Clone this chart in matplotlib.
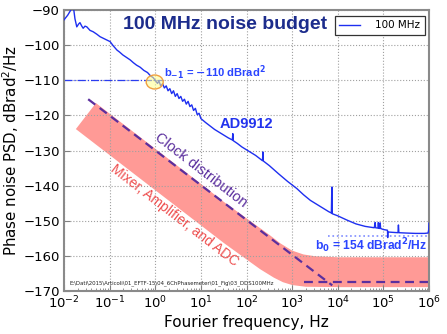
import matplotlib
matplotlib.use("Agg")
import matplotlib.pyplot as plt
from matplotlib.patches import Ellipse
import numpy as np

# ---- data (log10 frequency, dB) ----
meas_logf = [-2.00, -1.92, -1.85, -1.82, -1.79, -1.76, -1.72, -1.68, -1.65, -1.61, -1.58, -1.54,
             -1.50, -1.43, -1.36, -1.28, -1.21, -1.10, -0.99, -0.92, -0.84, -0.78, -0.71, -0.63,
             -0.55, -0.48, -0.41, -0.33, -0.25, -0.17, -0.10, -0.05, 0.00,
             0.05, 0.08, 0.12, 0.16, 0.20, 0.24, 0.28, 0.32, 0.36, 0.40, 0.44, 0.48, 0.52, 0.56,
             0.60, 0.64, 0.68, 0.72, 0.76, 0.80, 0.84, 0.88, 0.92, 0.96, 1.00,
             1.10, 1.20, 1.30, 1.40, 1.50, 1.60, 1.69, 1.70, 1.71, 1.80, 1.90, 2.00, 2.10, 2.20,
             2.30, 2.35, 2.36, 2.37, 2.50, 2.70, 2.90, 3.10, 3.25, 3.40, 3.60, 3.80, 3.86, 3.87,
             3.88, 4.00, 4.20, 4.40, 4.60, 4.80, 4.82, 4.83, 4.88, 4.89, 4.90, 4.92, 4.93, 4.94,
             5.00, 5.09, 5.095, 5.10, 5.20, 5.32, 5.33, 5.34, 5.50, 5.70, 5.90, 5.98, 5.995, 6.00]
meas_db = [-92.8, -91.5, -90.0, -89.0, -89.5, -92.5, -94.8, -94.0, -93.6, -94.6, -95.2, -94.6,
           -94.8, -95.8, -96.2, -96.9, -97.6, -98.3, -99.0, -100.2, -101.4, -102.0, -102.8, -103.5,
           -104.2, -105.0, -105.7, -106.3, -107.2, -107.8, -108.8, -109.2, -110.0,
           -110.9, -110.2, -111.6, -111.0, -112.2, -111.6, -113.0, -112.4, -113.8, -113.0, -114.6,
           -113.8, -115.2, -114.6, -116.0, -115.4, -116.8, -116.0, -117.5, -117.0, -118.6, -118.0,
           -119.8, -119.4, -120.9,
           -122.0, -123.0, -124.0, -124.8, -125.6, -126.4, -127.0, -125.2, -127.2, -128.0, -129.0,
           -129.8, -130.6, -131.4, -132.4, -132.9, -130.4, -133.0, -134.3, -136.6, -138.8, -140.8,
           -142.6, -144.2, -145.8, -147.4, -147.8, -140.4, -148.0, -148.6, -149.8, -150.9, -151.6,
           -152.0, -150.5, -152.0, -152.1, -150.5, -152.1, -152.2, -150.6, -152.2,
           -152.5, -152.7, -154.8, -153.2, -153.3, -153.4, -151.2, -153.4, -153.5, -153.6, -153.6,
           -153.5, -152.5, -150.7]

band_up_logf = [-1.30, -1.0, 0.0, 1.0, 1.5, 2.0, 2.5, 2.75, 3.0, 3.25, 3.5, 4.0, 6.0]
band_up_db = [-116.5, -119.5, -129.5, -139.5, -144.6, -149.3, -154.0, -156.5, -158.5, -159.6,
              -160.1, -160.4, -160.4]
band_lo_logf = [-1.74, -1.0, 0.0, 1.0, 1.5, 2.0, 2.3, 2.6, 2.8, 3.0, 3.3, 4.0, 6.0]
band_lo_db = [-123.9, -131.3, -141.3, -151.3, -156.3, -161.0, -163.8, -166.2, -167.5, -168.3,
              -168.8, -168.9, -168.9]

clock_slope_logf = [-1.47, 3.88]
clock_slope_db = [-115.4, -168.4]
clock_floor_logf = [3.27, 6.0]
clock_floor_db = [-167.5, -167.5]

b_m1_db = -110
b_m1_span_logf = [-2.0, 0.17]
b0_db = -154.4
b0_span_logf = [3.78, 6.0]

xticks = [1e-2, 1e-1, 1e0, 1e1, 1e2, 1e3, 1e4, 1e5, 1e6]
yticks = [-170, -160, -150, -140, -130, -120, -110, -100, -90]

f = lambda l: 10.0 ** np.asarray(l)

fig = plt.figure(figsize=(4.47, 3.34), dpi=100)
ax = fig.add_axes([64 / 447, 43 / 334, 365 / 447, 281 / 334])

band_x = np.concatenate([f(band_up_logf), f(band_lo_logf)[::-1]])
band_y = np.concatenate([band_up_db, band_lo_db[::-1]])
ax.fill(band_x, band_y, color='#ff9a96', lw=0, zorder=1)

ax.plot(f(clock_slope_logf), clock_slope_db, color='#5b2f9e', lw=1.6, dashes=(4, 2.5), zorder=2)
ax.plot(f(clock_floor_logf), clock_floor_db, color='#5b2f9e', lw=1.6, dashes=(4, 2.5), zorder=2)

ax.plot(f(b_m1_span_logf), [b_m1_db, b_m1_db], color='#2a3cf0', lw=0.9, ls='-.', zorder=2)
ax.plot(f(b0_span_logf), [b0_db, b0_db], color='#7f8cff', lw=1.2, ls=':', zorder=2)

ax.plot(f(meas_logf), meas_db, color='#1e2ff0', lw=1.0, label='100 MHz', zorder=3)

ax.set_xscale('log')
ax.set_xlim(1e-2, 1e6)
ax.set_ylim(-170, -90)
ax.set_xticks(xticks)
ax.set_yticks(yticks)
ax.set_yticklabels(['\u2212%d' % abs(v) for v in yticks])
ax.grid(True, which='major', ls=':', color='#a0a0a0', lw=0.8)
ax.tick_params(which='both', direction='in', labelsize=9.5, pad=3, color='#808080')
ax.tick_params(which='major', length=4)
ax.tick_params(which='minor', length=2)
for s in ax.spines.values():
    s.set_color('#8a8a8a')
    s.set_linewidth(1.5)

ax.set_xlabel('Fourier frequency, Hz', fontsize=11, labelpad=2)
ax.set_ylabel('Phase noise PSD, dBrad$^2$/Hz', fontsize=10.8, labelpad=2)

leg = ax.legend(loc='upper right', bbox_to_anchor=(0.988, 0.978), borderaxespad=0,
                fontsize=7.5, fancybox=False, framealpha=1, handlelength=2.0,
                borderpad=0.4, handletextpad=1.5)
leg.get_frame().set_edgecolor('#333333')
leg.get_frame().set_linewidth(0.9)

ax.text(0.441, 0.948, '100 MHz noise budget', transform=ax.transAxes, ha='center', va='center',
        fontsize=14, color='#1c2c8c', family='Liberation Sans', fontweight='bold')
ax.text(0.499, 0.593, 'AD9912', transform=ax.transAxes, ha='center', va='center',
        fontsize=10.5, color='#2233ee', family='Liberation Sans', fontweight='bold')
ax.text(0.275, 0.776, r'b$_{\mathbf{-1}}$ = $\mathbf{-}$110 dBrad$^\mathbf{2}$', transform=ax.transAxes,
        ha='left', va='center', fontsize=8, color='#2a44ff', family='Liberation Sans',
        fontweight='bold')
ax.text(0.687, 0.160, r'b$_\mathbf{0}$ = 154 dBrad$^\mathbf{2}$/Hz', transform=ax.transAxes,
        ha='left', va='center', fontsize=8.7, color='#2a44ff', family='Liberation Sans',
        fontweight='bold')
ax.text((201 - 64) / 365, (291 - 170) / 281, 'Clock distribution', transform=ax.transAxes,
        ha='center', va='center', rotation=-37.6, rotation_mode='anchor', fontsize=10.5,
        color='#5b2f9e', family='Liberation Sans')
ax.text((175 - 64) / 365, (291 - 215) / 281, 'Mixer, Amplifier, and ADC', transform=ax.transAxes,
        ha='center', va='center', rotation=-37.6, rotation_mode='anchor', fontsize=10,
        color='#ee5050', family='Liberation Sans')
ax.text((69 - 64) / 365, (291 - 283) / 281,
        r'E:\Dati\2015\Articoli\01_EFTF-15\04_6ChPhasemeter\01_Fig\03_DDS100MHz',
        transform=ax.transAxes, ha='left', va='center', fontsize=3.9, color='#222222')

ax.add_patch(Ellipse(((154.7 - 64) / 365, (291 - 82) / 281), 17 / 365, 14 / 281,
                     transform=ax.transAxes, facecolor=(1, 1, 0.55, 0.55),
                     edgecolor='#f0a040', lw=1.0, zorder=4))

fig.savefig('out.png', dpi=100)
